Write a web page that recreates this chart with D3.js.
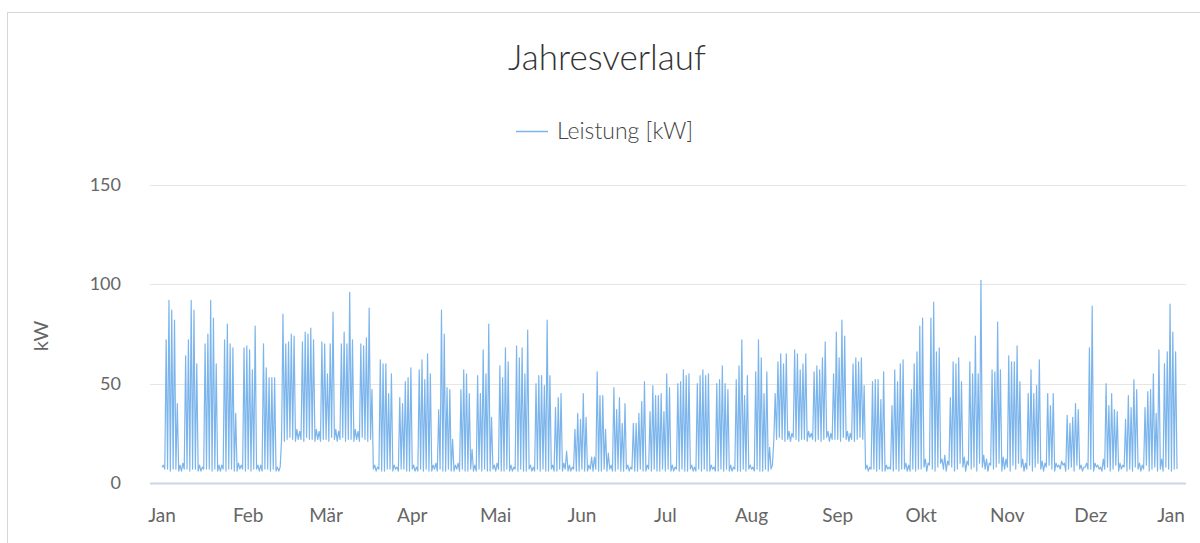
<!DOCTYPE html>
<html lang="de">
<head>
<meta charset="utf-8">
<title>Jahresverlauf</title>
<script src="https://cdn.jsdelivr.net/npm/d3@7"></script>
<style>
    html, body { margin: 0; padding: 0; background: #fff; }
    #chart { width: 1200px; height: 543px; overflow: hidden; }
    text { font-family: Lato, "Open Sans", sans-serif; }
</style>
</head>
<body>
<div id="chart"></div>
<script>
// Daily peak load [kW], one array per month
const peakJan = [9,72,92,87,82,40,9,10,64,72,92,87,60,9,8,70,75,92,83,60,9,9,72,80,70,68,35,10,9,68,69];
const peakFeb = [67,57,79,9,9,70,58,53,53,53,8,8,85,70,71,75,74,27,26,71,76,75,78,72,27,26,71,70];
const peakMar = [55,70,86,27,26,70,76,70,96,72,27,26,70,69,73,88,47,9,8,62,60,60,45,55,9,8,43,40,51,53,58];
const peakApr = [9,8,57,62,52,65,55,9,10,37,87,75,48,47,22,9,10,47,57,55,45,17,9,54,45,67,55,80,33,9];
const peakMai = [10,59,53,68,61,9,8,69,63,68,55,77,9,8,50,54,54,49,82,54,9,38,43,45,10,16,9,8,27,35,32];
const peakJun = [45,33,9,13,13,56,44,44,27,15,9,48,37,43,30,40,9,8,30,30,35,41,51,9,36,49,44,44,45,36];
const peakJul = [55,48,9,8,50,51,57,54,55,9,8,50,54,57,54,55,9,8,50,52,59,50,47,9,8,52,59,72,44,54,9];
const peakAug = [8,56,72,63,45,56,18,9,45,61,65,60,65,26,25,67,65,57,60,65,26,25,56,59,57,63,71,26,25,55,76];
const peakSep = [63,82,74,26,25,60,63,61,63,49,9,8,51,52,52,42,56,9,8,39,57,51,60,62,10,9,47,60,66,79];
const peakOkt = [83,12,10,83,91,66,68,12,14,11,43,61,60,63,51,13,11,61,55,74,55,102,14,12,10,57,56,81,57,13,12];
const peakNov = [64,61,61,69,51,12,10,45,57,45,49,62,11,10,45,39,45,10,9,11,10,34,30,33,40,37,9,8,10,68];
const peakDez = [89,10,9,8,12,50,39,45,37,36,10,9,32,44,38,52,47,10,9,38,46,47,55,35,67,12,60,66,90,76,66];

// Night base load [kW] per day
const baseJan = [8,7,7,6,7,7,6,6,7,7,6,7,7,6,6,7,7,7,6,7,6,6,7,6,7,7,6,6,7,7,6];
const baseFeb = [7,6,7,7,6,6,7,7,6,7,6,6,22,21,22,23,22,21,22,22,21,23,22,22,21,22,21,22];
const baseMar = [22,21,23,22,21,22,23,21,22,22,21,22,21,23,22,21,22,7,6,7,6,6,7,7,6,7,6,7,7,6,6];
const baseApr = [7,6,6,7,6,7,6,6,7,6,7,6,6,7,6,6,7,6,7,6,6,7,6,6,7,6,7,6,6,7];
const baseMai = [6,7,6,6,7,6,6,7,6,7,6,6,7,6,6,7,6,7,6,6,7,6,6,7,6,7,6,6,7,6,6];
const baseJun = [7,6,6,7,6,7,6,6,7,6,7,6,6,7,6,6,7,6,7,6,6,7,6,6,7,6,7,6,6,7];
const baseJul = [6,7,6,6,7,6,7,6,6,7,6,6,7,6,7,6,6,7,6,6,7,6,7,6,6,7,6,6,7,6,7];
const baseAug = [7,6,7,6,6,7,6,7,21,22,23,22,21,22,21,23,22,21,22,22,21,23,22,21,22,21,22,23,21,22,22];
const baseSep = [22,21,23,22,21,22,21,22,23,22,7,6,7,7,6,7,6,6,7,7,6,7,6,7,7,6,6,7,6,7];
const baseOkt = [7,8,6,9,7,6,8,10,7,6,9,8,6,7,10,8,6,9,7,8,6,10,8,7,6,9,7,8,10,6,7];
const baseNov = [8,6,9,7,10,8,6,7,9,6,8,10,7,6,8,9,7,6,8,7,9,6,7,8,6,9,7,6,8,7];
const baseDez = [7,6,8,7,6,7,8,6,7,9,6,7,8,6,7,6,8,7,6,7,9,6,7,8,6,7,6,8,7,6,7];

const monthLabels = ["Jan","Feb","Mär","Apr","Mai","Jun","Jul","Aug","Sep","Okt","Nov","Dez"];
const yTicks = [0, 50, 100, 150];

const titleText = "Jahresverlauf";
const seriesName = "Leistung [kW]";
const yAxisTitle = "kW";

class YearChart {
    constructor(containerId) {
        this.container = d3.select(`#${containerId}`);
        this.width = 1200;
        this.height = 543;
        this.plot = { left: 150, right: 1186, top: 185, bottom: 483 };
        this.color = "#7cb5ec";
        this.init();
    }

    init() {
        this.container.selectAll("*").remove();
        this.svg = this.container.append("svg")
            .attr("width", this.width)
            .attr("height", this.height);

        // card border
        this.svg.append("rect")
            .attr("x", 7.5).attr("y", 12.5)
            .attr("width", 1300).attr("height", 700)
            .attr("fill", "#fff")
            .attr("stroke", "#d6d6d6");

        const start = Date.UTC(2017, 0, 1);
        const end = Date.UTC(2018, 0, 1);
        this.x = d3.scaleUtc().domain([start, end]).range([162, 1177]);
        this.y = d3.scaleLinear().domain([0, 150]).range([this.plot.bottom, this.plot.top]);

        this.drawAxes();
        this.drawSeries(start);
        this.drawText();
    }

    drawAxes() {
        const g = this.svg.append("g");

        g.selectAll("line.grid")
            .data(yTicks.filter(v => v > 0))
            .join("line")
            .attr("class", "grid")
            .attr("x1", this.plot.left).attr("x2", this.plot.right)
            .attr("y1", d => Math.round(this.y(d)) + 0.5)
            .attr("y2", d => Math.round(this.y(d)) + 0.5)
            .attr("stroke", "#e6e6e6");

        g.selectAll("text.ytick")
            .data(yTicks)
            .join("text")
            .attr("class", "ytick")
            .attr("x", 121)
            .attr("y", d => this.y(d) + 6)
            .attr("text-anchor", "end")
            .attr("font-size", 18)
            .attr("fill", "#666")
            .text(d => d);

        const months = d3.utcMonth.range(...this.x.domain()).concat([this.x.domain()[1]]);
        g.selectAll("text.xtick")
            .data(months)
            .join("text")
            .attr("class", "xtick")
            .attr("x", d => Math.min(this.x(d), this.plot.right - 15))
            .attr("y", 522)
            .attr("text-anchor", "middle")
            .attr("font-size", 19)
            .attr("fill", "#666")
            .text(d => monthLabels[d.getUTCMonth()]);

        g.append("text")
            .attr("transform", "translate(48,336) rotate(-90)")
            .attr("text-anchor", "middle")
            .attr("font-size", 20)
            .attr("fill", "#666")
            .text(yAxisTitle);
    }

    drawSeries(start) {
        const peaks = [].concat(peakJan, peakFeb, peakMar, peakApr, peakMai, peakJun,
            peakJul, peakAug, peakSep, peakOkt, peakNov, peakDez);
        const bases = [].concat(baseJan, baseFeb, baseMar, baseApr, baseMai, baseJun,
            baseJul, baseAug, baseSep, baseOkt, baseNov, baseDez);

        const day = 864e5;
        const points = [];
        peaks.forEach((p, i) => {
            points.push({ t: start + i * day, v: bases[i] });
            points.push({ t: start + (i + 0.5) * day, v: p });
        });
        points.push({ t: start + peaks.length * day, v: bases[bases.length - 1] });

        const line = d3.line()
            .x(d => this.x(d.t))
            .y(d => this.y(d.v));

        this.svg.append("path")
            .datum(points)
            .attr("fill", "none")
            .attr("stroke", this.color)
            .attr("stroke-width", 1.2)
            .attr("stroke-linejoin", "round")
            .attr("d", line);

        // x axis line drawn over the series
        this.svg.append("line")
            .attr("x1", this.plot.left).attr("x2", this.plot.right)
            .attr("y1", this.plot.bottom + 0.5).attr("y2", this.plot.bottom + 0.5)
            .attr("stroke", "#ccd6eb")
            .attr("stroke-width", 2);
    }

    drawText() {
        this.svg.append("text")
            .attr("x", 607)
            .attr("y", 70)
            .attr("text-anchor", "middle")
            .attr("font-size", 35)
            .attr("font-weight", 300)
            .attr("fill", "#333")
            .text(titleText);

        const legend = this.svg.append("g").attr("transform", "translate(516,131)");
        legend.append("line")
            .attr("x1", 0).attr("x2", 32)
            .attr("y1", 0.5).attr("y2", 0.5)
            .attr("stroke", this.color)
            .attr("stroke-width", 1.5);
        legend.append("text")
            .attr("x", 41)
            .attr("y", 8)
            .attr("font-size", 23)
            .attr("font-weight", 300)
            .attr("fill", "#444")
            .text(seriesName);
    }
}

document.addEventListener("DOMContentLoaded", () => {
    window.chart = new YearChart("chart");
});
</script>
</body>
</html>
